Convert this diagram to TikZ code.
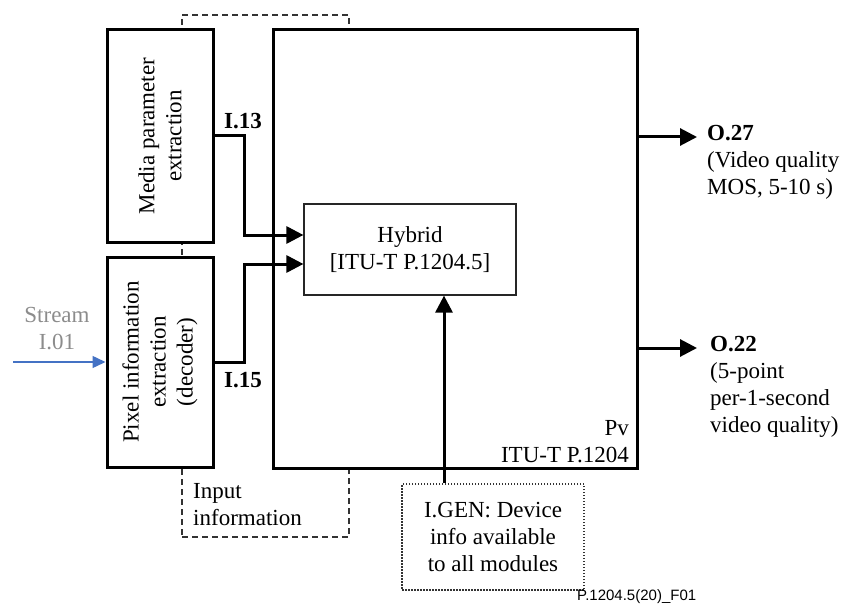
\documentclass[tikz,border=0pt]{standalone}
\usepackage{fontspec}
\setmainfont{Liberation Serif}
\newfontfamily\sansfig{Liberation Sans}
\usetikzlibrary{arrows.meta,calc}

\definecolor{grigiostream}{RGB}{140,140,140}
\definecolor{blustream}{RGB}{68,114,196}

\begin{document}
\begin{tikzpicture}[
			x=1pt, y=-1pt,
			font=\fontsize{23}{27}\selectfont,
			blocco/.style={draw=black, fill=white, line width=3pt,
				inner sep=0pt},
			blocchino/.style={draw=black!85, fill=white,
				line width=1.2pt, inner sep=0pt, align=center},
			tratteggio/.style={draw=black!80, line width=1.3pt,
				dash pattern=on 6pt off 4pt},
			puntini/.style={draw=black!80, fill=white, line width=1.2pt,
				dash pattern=on 1.5pt off 1.5pt, inner sep=0pt,
				align=center},
			freccia/.style={line width=3pt,
				-{Triangle[length=17pt, width=17pt]}},
			frecciablu/.style={line width=1.5pt, blustream,
				-{Triangle[length=13pt, width=12pt]}},
			etich/.style={inner sep=0pt},
			]
			\useasboundingbox (0,0) rectangle (850,612);
			
			% area informazioni di ingresso
			\node[tratteggio, minimum width=167pt, minimum height=522pt]
				(areaingresso) at (265.5,276) {};
			
			% blocchi di estrazione
			\node[blocco, minimum width=106pt, minimum height=212pt]
				(media) at (160,136) {};
			\node[rotate=90, align=center] (testomedia) at (media.center)
				{Media parameter\\extraction};
			\node[blocco, minimum width=106pt, minimum height=210pt]
				(pixel) at (160,362) {};
			\node[rotate=90, align=center] (testopixel) at (pixel.center)
				{Pixel information\\extraction\\(decoder)};
			
			% modello Pv
			\node[blocco, minimum width=364pt, minimum height=438pt]
				(pv) at (455,249) {};
			\node[blocchino, minimum width=212pt, minimum height=91pt]
				(hybrid) at (410,249.5) {Hybrid\\{[ITU-T P.1204.5]}};
			\node[etich, anchor=east, align=right] (pvtesto) at (629,441.5)
				{Pv\\ITU-T P.1204};
			\node[etich, anchor=west, align=left] (ingresso) at (193,504.5)
				{Input\\information};
			
			% ingresso stream
			\node[etich, text=grigiostream, align=center] (stream)
				at (57,328.5) {Stream\\I.01};
			\coordinate (sorgente) at (13,362);
			\draw[frecciablu] (sorgente) -- (pixel.west);
			
			% collegamenti I.13 e I.15
			\coordinate (h13) at ([yshift=14.5pt]hybrid.west);
			\coordinate (h15) at ([yshift=-14.5pt]hybrid.west);
			\draw[freccia] (media.east) -- ++(30,0) |- (h13);
			\draw[freccia] (pixel.east) -- ++(30,0) |- (h15);
			\node[etich, anchor=west] (i13) at (224,121) {\textbf{I.13}};
			\node[etich, anchor=west] (i15) at (224,380) {\textbf{I.15}};
			
			% informazioni dispositivo
			\node[puntini, minimum width=182pt, minimum height=106pt]
				(igen) at (493,537) {I.GEN: Device\\info available\\to all modules};
			\draw[freccia] ([xshift=-49pt]igen.north)
				-- ([xshift=-49pt]igen.north |- hybrid.south);
			
			% uscite
			\coordinate (uscita27) at (697,137);
			\coordinate (uscita22) at (697,348);
			\draw[freccia] (pv.east |- uscita27) -- (uscita27);
			\draw[freccia] (pv.east |- uscita22) -- (uscita22);
			\node[etich, anchor=west, align=left] (o27) at (707,162.5)
				{\textbf{O.27}\\(Video quality\\MOS, 5-10 s)};
			\node[etich, anchor=west, align=left] (o22) at (710,387)
				{\textbf{O.22}\\(5-point\\per-1-second\\video quality)};
			
			% sigla figura
			\node[etich, anchor=west, font=\sansfig\fontsize{15}{18}\selectfont]
				(sigla) at (577,597) {P.1204.5(20)\_F01};
			
		\end{tikzpicture}
\end{document}
